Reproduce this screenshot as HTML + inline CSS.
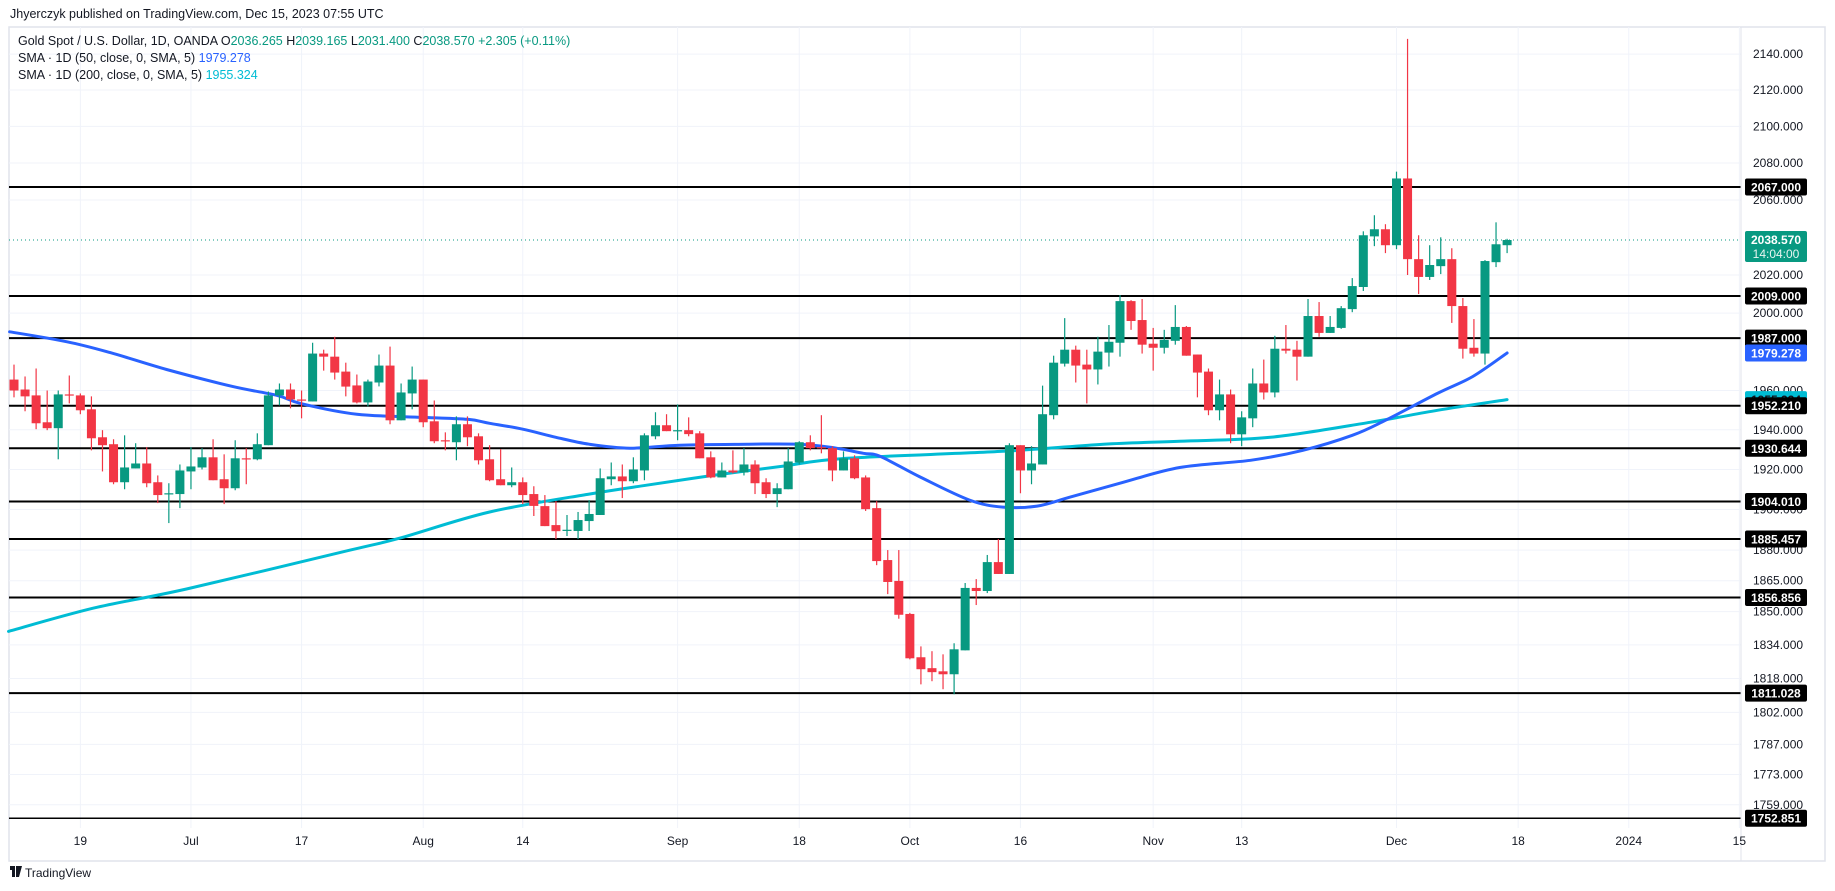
<!DOCTYPE html>
<html><head><meta charset="utf-8">
<style>
html,body{margin:0;padding:0;background:#fff;width:1835px;height:891px;overflow:hidden;font-family:"Liberation Sans",Arial,sans-serif;}
svg text{font-family:"Liberation Sans",Arial,sans-serif;}
</style></head>
<body>
<svg id="chart" width="1835" height="891" viewBox="0 0 1835 891" xmlns="http://www.w3.org/2000/svg">
  <text x="10" y="18" font-size="12.5" fill="#131722">Jhyerczyk published on TradingView.com, Dec 15, 2023 07:55 UTC</text>
  <rect x="9" y="27" width="1816" height="834" fill="none" stroke="#e0e3eb" stroke-width="1.5"/>
  <g id="grid"></g>
  <g id="levels"></g>
  <g id="sma"></g>
  <g id="candles"></g>
  <line x1="1741" y1="27" x2="1741" y2="861" stroke="#e0e3eb" stroke-width="1"/>
  <g id="yaxis"></g>
  <g id="xaxis"></g>
  <g id="boxes"></g>
  <g font-size="12.5">
    <text x="18" y="45" fill="#131722">Gold Spot / U.S. Dollar, 1D, OANDA  O<tspan fill="#089981">2036.265</tspan>  H<tspan fill="#089981">2039.165</tspan>  L<tspan fill="#089981">2031.400</tspan>  C<tspan fill="#089981">2038.570</tspan>  <tspan fill="#089981">+2.305 (+0.11%)</tspan></text>
    <text x="18" y="62" fill="#131722">SMA · 1D (50, close, 0, SMA, 5)  <tspan fill="#2962ff">1979.278</tspan></text>
    <text x="18" y="79" fill="#131722">SMA · 1D (200, close, 0, SMA, 5)  <tspan fill="#00bcd4">1955.324</tspan></text>
  </g>
  <g>
    <rect x="10" y="866" width="5" height="4" fill="#131722"/>
    <rect x="12" y="866" width="3" height="11" fill="#131722"/>
    <polygon points="16,866 22,866 19,877 16,877" fill="#131722"/>
    <text x="25" y="877" font-size="12" fill="#131722">TradingView</text>
  </g>
</svg>
<script>
// ---- data ----
const opens = [1965.6,1960.5,1957.5,1943.8,1940.8,1958,
1957.5,1950.4,1936.2,1932.7,1913.6,1920.5,1923,1913.6,1907.7,1907.7,
1919,1921,1926.1,1915.1,1910.6,1925.6,1925.1,1932.2,1957.5,1960.5,
1955.4,1954.4,1979,1977.4,1969.7,1962.6,1953.9,1964.1,1972.8,1944.8,
1958.5,1965.6,1944.3,1934.7,1933.7,1942.8,1936.7,1925.1,1915.1,1912.1,
1913.6,1907.7,1901.7,1892.3,1889.8,1889.4,1894.3,1897.3,1915.1,1916.5,
1914.1,1919.5,1936.7,1942.3,1939.3,1939.8,1938.2,1926.1,1916,1919.5,
1918.5,1922.5,1913.6,1907.7,1910.1,1923.5,1933.7,1931.2,1930.7,1919.5,
1925.6,1916,1900.7,1875.1,1864.9,1848.9,1828.1,1822.9,1821.4,1820,
1831.4,1861.5,1860,1874.1,1868.3,1932.2,1919.5,1922.5,1947.4,1973.8,
1981,1973.3,1970.8,1979.5,1984.6,2006.3,1996.4,1984.1,1982,1985.6,
1992.8,1978.5,1969.7,1949.9,1958,1937.7,1945.8,1963.6,1959,1981.5,
1981,1977.4,1998.5,1989.7,1992.3,2002.1,2013.7,2040.5,2044.3,2035.8,
2071.6,2028.4,2019,2024.7,2028.4,2003.7,1982,1979,2026.8,2035.8];
const closes = [1960,1957,1943.3,1940.8,1958,1957.5,
1949.9,1935.7,1932.2,1913.6,1921,1923,1913.1,1907.2,1908.1,1919.5,
1921.5,1926.1,1914.6,1910.6,1925.6,1925.1,1932.7,1957.5,1960.5,1955.4,
1954.9,1979,1977.4,1969.2,1962,1953.9,1964.6,1972.8,1944.8,1959,
1965.6,1943.8,1934.2,1934.5,1942.8,1936.2,1924.6,1914.6,1912.1,1913.6,
1907.2,1901.8,1891.8,1889.3,1890,1894.8,1897.8,1915.6,1916.5,1914.1,
1920,1937.2,1942.3,1939.3,1939.8,1937.8,1925.6,1916,1919.5,1918.5,
1922.5,1913.1,1907.7,1910.6,1924,1933.7,1930.7,1930.7,1919.5,1925.6,
1915.6,1900.2,1874.6,1864.4,1848.5,1827.6,1822.4,1821,1820,1831.9,
1861.5,1860,1874.1,1868.3,1932.2,1919.5,1923,1947.9,1974.3,1981,
1972.8,1970.8,1980,1985.1,2006.3,1995.9,1983.6,1982,1986.1,1992.8,
1977.9,1969.2,1949.9,1958,1937.7,1946.3,1963.6,1959,1981.5,1980.5,
1977.4,1998.5,1989.7,1992.8,2002.6,2014.2,2041.1,2044.3,2035.8,2071.6,
2028.4,2019,2025.3,2028.4,2003.7,1981.5,1979,2027.4,2036.3,2038.57];
const highs = [1973.3,1967.2,1971.3,1960,1960,1967.7,
1958.5,1957,1939.8,1935.2,1937.2,1933.2,1931.2,1917,1913.1,1922.5,
1931.2,1930.7,1935.2,1927.6,1934.7,1930.7,1938.2,1959.5,1963.6,1963.6,
1960,1984.6,1981,1987.7,1974.3,1968.2,1965.6,1978.5,1982.6,1963.6,
1972.3,1965.6,1954.9,1938.7,1946.8,1946.8,1938.2,1932.2,1930.2,1921,
1916,1911.6,1907.2,1904.2,1897.3,1898.8,1904.7,1920.5,1923.5,1922.5,
1926.1,1938.2,1948.9,1947.9,1952.9,1946.3,1939.3,1929.1,1923.5,1929.6,
1930.7,1924.6,1915.6,1913.1,1930.7,1934.2,1937.2,1947.4,1931.7,1929.1,
1927.1,1917,1904.2,1880,1880,1849.4,1833.3,1831,1829.5,1834.8,
1863.9,1865.8,1877.6,1885.4,1933.2,1932.2,1931.7,1962.5,1977.9,1997.4,
1983.1,1981,1987.7,1993.8,2009.5,2006.8,2007.4,1992.3,1991.3,2004.2,
1993.3,1978.5,1971.3,1965.6,1960.5,1949.4,1971.3,1975.9,1988.2,1993.8,
1985.6,2007.4,2005.8,1998.5,2003.7,2018.4,2043.2,2051.8,2047,2075.3,
2148.5,2041.1,2035.8,2040,2034.2,2007.9,1996.9,2027.9,2048,2039.2];
const lows = [1956.5,1949.4,1940.3,1939.8,1925.1,1953.4,
1947.9,1929.6,1919,1912.6,1910.1,1920.5,1911.1,1903.2,1893.3,1900.7,
1910.1,1920,1914.6,1902.7,1909.6,1912.6,1924.6,1932.2,1952.4,1950.9,
1945.8,1954.4,1970.2,1965.6,1957,1953.4,1951.9,1962.1,1942.8,1944.8,
1950.4,1941.3,1933.2,1929.6,1924.6,1931.7,1922.5,1914.1,1912.1,1911.1,
1902.7,1896.8,1891.8,1885.4,1886.9,1885.4,1889.4,1897.3,1912.1,1905.7,
1913.1,1914.6,1935.2,1939.3,1934.7,1936.7,1925.6,1915.6,1916,1918,
1917,1907.7,1905.7,1901.2,1910.1,1922.5,1929.6,1928.1,1914.1,1919.5,
1915.1,1899.3,1872.6,1858.5,1846.6,1827.1,1815.2,1816.7,1812.9,1810.5,
1831.4,1853.2,1859,1868.3,1868.3,1908.1,1912.6,1922.5,1945.3,1972.3,
1964.1,1953.4,1963.1,1972.3,1977.4,1991.3,1979,1970.2,1979,1983.6,
1977.9,1956.5,1947.4,1944.8,1933.2,1931.7,1941.3,1955.4,1956.5,1979,
1965.1,1977.4,1987.7,1989.7,1991.8,2000.5,2011.6,2035.3,2031.6,2033.7,
2020,2010,2017.4,2020.5,1994.9,1976.4,1977.4,1973.3,2024.2,2031.6];
const sma50Idx = [-0.4,4.8,8.7,13.8,19.8,23.8,25.9,31,37,41,43,46,49,52,55.7,60.2,66.3,70.8,73.8,76.8,78.3,82,86.4,89.4,92.5,95.5,100,105.4,111.8,116.5,121,124,128.7,131.9,135];
const sma50Val = [1990.3,1985.1,1979.5,1970.8,1962.0,1957.5,1953.4,1947.9,1946.3,1945.3,1943.3,1940.3,1936.2,1932.7,1930.7,1932.2,1932.7,1932.7,1931.2,1928.1,1926.6,1916,1904.7,1901.2,1901.7,1906.2,1913.1,1921,1924.6,1929.6,1937.2,1944.8,1958.5,1967.2,1979.278];
const sma200Idx = [-0.5,7.2,15.6,30.4,34.9,43,52,57.2,63.2,69.3,75.3,89.4,98.5,105.4,113.6,122.6,128.7,135];
const sma200Val = [1840.5,1851.7,1861,1880,1885.9,1898.8,1907.7,1912.1,1917,1921.5,1925.6,1929.1,1932.7,1934.2,1936.2,1943.8,1949.9,1955.324];
const levelPrices = [2067,2009,1987,1952.21,1930.644,1904.01,1885.457,1856.856,1811.028,1752.851];
const levelLabels = ["2067.000","2009.000","1987.000","1952.210","1930.644","1904.010","1885.457","1856.856","1811.028","1752.851"];
const yTickPrices = [2140,2120,2100,2080,2060,2020,2000,1960,1940,1920,1900,1880,1865,1850,1834,1818,1802,1787,1773,1759];
const xTickIdx = [6,16,26,37,46,60,71,81,91,103,111,125,136,146,156];
const xTickLabels = ["19","Jul","17","Aug","14","Sep","18","Oct","16","Nov","13","Dec","18","2024","15"];
const lastPrice = 2038.57;

// ---- scales ----
const NS = "http://www.w3.org/2000/svg";
function y(p){ return 29417 - 3829*Math.log(p); }
function x(i){ return 14 + 11.06*i; }
function mk(tag, attrs, parent){ const e=document.createElementNS(NS,tag); for(const k in attrs) e.setAttribute(k,attrs[k]); parent.appendChild(e); return e; }

const grid = document.getElementById('grid');
yTickPrices.forEach(p=>{
  const l = mk('line',{x1:9,x2:1741,y1:y(p),y2:y(p),stroke:'#f0f3fa','stroke-width':1},grid);
  
  
});
xTickIdx.forEach(i=>{
  const l = mk('line',{x1:x(i),x2:x(i),y1:27,y2:828,stroke:'#f0f3fa','stroke-width':1},grid);
  
  
});

const yaxis = document.getElementById('yaxis');
yTickPrices.forEach(p=>{
  const t = mk('text',{x:1753,y:y(p)+4,'font-size':12,fill:'#131722'},yaxis);
  t.textContent = p.toFixed(3);
  
  
});
const xaxis = document.getElementById('xaxis');
xTickIdx.forEach((i,n)=>{
  const t = mk('text',{x:x(i),y:845,'font-size':12,fill:'#131722','text-anchor':'middle'},xaxis);
  t.textContent = xTickLabels[n];
  
  
});

const lv = document.getElementById('levels');
levelPrices.forEach((p,n)=>{
  const l = mk('line',{x1:9,x2:1741,y1:y(p),y2:y(p),stroke:'#000','stroke-width':n===levelPrices.length-1?1.5:2},lv);
  
  
});
const dl = mk('line',{x1:9,x2:1741,y1:y(lastPrice),y2:y(lastPrice),stroke:'#089981','stroke-width':1,'stroke-dasharray':'1,3'},lv);



// smooth SMA paths (Catmull-Rom)
const sg = document.getElementById('sma');
function path(idx,val){
  const P = idx.map((i,n)=>[x(i), y(val[n])]);
  let d = 'M'+P[0][0].toFixed(1)+','+P[0][1].toFixed(1);
  for(let n=0;n<P.length-1;n++){
    const p0=P[Math.max(0,n-1)], p1=P[n], p2=P[n+1], p3=P[Math.min(P.length-1,n+2)];
    const c1=[p1[0]+(p2[0]-p0[0])/6, p1[1]+(p2[1]-p0[1])/6];
    const c2=[p2[0]-(p3[0]-p1[0])/6, p2[1]-(p3[1]-p1[1])/6];
    d += ' C'+c1[0].toFixed(1)+','+c1[1].toFixed(1)+' '+c2[0].toFixed(1)+','+c2[1].toFixed(1)+' '+p2[0].toFixed(1)+','+p2[1].toFixed(1);
  }
  return d;
}
const s200 = mk('path',{d:path(sma200Idx,sma200Val),fill:'none',stroke:'#00bcd4','stroke-width':3,'stroke-linejoin':'round','stroke-linecap':'round'},sg);


const s50 = mk('path',{d:path(sma50Idx,sma50Val),fill:'none',stroke:'#2962ff','stroke-width':3,'stroke-linejoin':'round','stroke-linecap':'round'},sg);



const cg = document.getElementById('candles');
opens.forEach((o,i)=>{
  const c = closes[i], up = c>=o, col = up?'#089981':'#f23645';
  const cx = x(i);
  const g = mk('g',{},cg);
  
  
  mk('line',{x1:cx,x2:cx,y1:y(highs[i]),y2:y(lows[i]),stroke:col,'stroke-width':1.2},g);
  const top = y(Math.max(o,c)), bot = y(Math.min(o,c));
  mk('rect',{x:cx-4.5,y:top,width:9,height:Math.max(1.2,bot-top),fill:col},g);
});

const bx = document.getElementById('boxes');
function box(p,label,bg,name,fg){
  const g = mk('g',{},bx);
  
  
  mk('rect',{x:1745,y:y(p)-8.5,width:62,height:17,rx:2,fill:bg},g);
  const t = mk('text',{x:1776,y:y(p)+4.5,'font-size':12,'font-weight':'bold',fill:fg||'#fff','text-anchor':'middle'},g);
  t.textContent = label;
}
box(1955.324,"1955.324","#00bcd4","sma-200-price-label","#131722");
levelPrices.forEach((p,n)=>box(p,levelLabels[n],"#000","level-price-label"));
box(1979.278,"1979.278","#2962ff","sma-50-price-label");
(function(){
  const g = mk('g',{},bx);
  
  
  const yy = y(lastPrice);
  mk('rect',{x:1745,y:yy-9,width:62,height:31,rx:2,fill:'#089981'},g);
  const t1 = mk('text',{x:1776,y:yy+4,'font-size':12,'font-weight':'bold',fill:'#fff','text-anchor':'middle'},g);
  t1.textContent = lastPrice.toFixed(3);
  const t2 = mk('text',{x:1776,y:yy+18,'font-size':12,fill:'#e8f5f1','text-anchor':'middle'},g);
  t2.textContent = "14:04:00";
})();
</script>
</body></html>
